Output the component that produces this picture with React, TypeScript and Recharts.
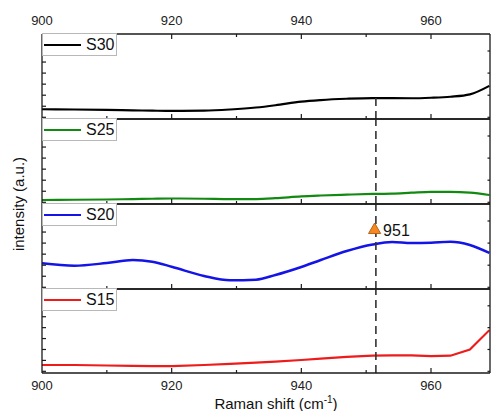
import React from "react";
import {
  ComposedChart,
  Line,
  Scatter,
  XAxis,
  YAxis,
  ReferenceLine,
  Legend,
  LabelList,
  Label,
} from "recharts";

// Raman shift positions (cm-1) at which the curves were read
const shifts = [900, 905, 910, 914, 917, 920, 925, 929, 933, 936, 940, 943, 947, 951, 954, 957, 960, 963, 966, 969];

// intensities (a.u., 0-100 inside each panel)
const s30 = [11.5, 11.2, 10.7, 10.2, 9.8, 9.5, 9.8, 11.2, 13.5, 16.2, 20.5, 22.3, 23.8, 24.6, 24.5, 24.4, 25, 26.2, 29, 39];
const s25 = [4.7, 5.0, 5.3, 5.8, 6.2, 6.5, 6.2, 5.7, 5.8, 6.8, 9.0, 10.0, 11.0, 11.8, 12.2, 13.3, 14.3, 14.3, 13.3, 10.6];
const s20 = [30.2, 27.4, 30.6, 34.1, 32.1, 26.2, 15.3, 10.2, 11.0, 16.5, 25.9, 34.1, 44.7, 52.4, 55.3, 54.1, 54.5, 55.6, 51.8, 42.4];
const s15 = [9.5, 9.5, 8.9, 8.4, 8.3, 8.3, 9.5, 10.9, 12.4, 13.5, 15.5, 17.1, 19.2, 20.6, 21.0, 21.0, 20.2, 20.6, 28, 51];

const seriesNames = ["S30", "S25", "S20", "S15"];
const seriesColors = ["#000000", "#128a12", "#1414e6", "#ee1b1b"];
const seriesValues = [s30, s25, s20, s15];

const xTickValues = [900, 910, 920, 930, 940, 950, 960];
const xMajorTicks = [900, 920, 940, 960];
const yLeftTicks = [2, 15, 28, 41, 54, 67, 80, 93];
const yRightTicks = [2, 28, 54, 80];

const peakShift = 951.5;
const peakMarker = [{ shift: 951.3, value: 69.4, label: "951" }];

const W = 491;
const H = 411;
const panelTops = [34, 119, 204, 289];
const panelBottoms = [119, 204, 289, 373];
const FONT = "'Liberation Sans', Arial, sans-serif";
const AXIS = "#1a1a1a";

const renderXTick = (p: any, side: "top" | "bottom", labels: boolean) => {
  const v = p.payload.value;
  const major = xMajorTicks.includes(v);
  const len = major ? 5 : 3;
  const dir = side === "top" ? 1 : -1;
  return (
    <g>
      {v !== 900 && (
        <line x1={p.x} x2={p.x} y1={p.y} y2={p.y + dir * len} stroke={AXIS} strokeWidth={1.2} />
      )}
      {labels && major && (
        <text
          x={p.x}
          y={side === "top" ? p.y - 9 : p.y + 17}
          textAnchor="middle"
          fontSize={13}
          fontFamily={FONT}
          fill="#222"
        >
          {v}
        </text>
      )}
    </g>
  );
};

const renderYTick = (p: any, side: "left" | "right") => {
  const len = side === "left" ? 4 : -2.5;
  return <line x1={p.x} x2={p.x + len} y1={p.y} y2={p.y} stroke={AXIS} strokeWidth={1.2} />;
};

const LegendBox = ({ name, color }: { name: string; color: string }) => (
  <div
    style={{
      boxSizing: "border-box",
      width: 75,
      height: 23,
      border: "1px solid #b8b8b8",
      background: "#fff",
      display: "flex",
      alignItems: "center",
      fontFamily: FONT,
    }}
  >
    <span style={{ display: "inline-block", width: 37, height: 2, background: color, marginLeft: 1 }} />
    <span style={{ marginLeft: 5, fontSize: 16, color: "#111" }}>{name}</span>
  </div>
);

const Panel = ({ index }: { index: number }) => {
  const top = panelTops[index];
  const bottom = panelBottoms[index];
  const isFirst = index === 0;
  const isLast = index === 3;
  const color = seriesColors[index];
  const data = shifts.map((s, i) => ({ shift: s, value: seriesValues[index][i] }));

  return (
    <div style={{ position: "absolute", left: 0, top: 0 }}>
      <ComposedChart
        width={W}
        height={H}
        data={data}
        margin={{ top: top - 1, bottom: H - bottom - 1, left: 41, right: 0 }}
      >
        <XAxis
          xAxisId="b"
          dataKey="shift"
          type="number"
          domain={[900, 969.1]}
          allowDataOverflow
          orientation="bottom"
          height={1}
          ticks={xTickValues}
          interval={0}
          tickSize={0}
          tickMargin={0}
          tickLine={false}
          axisLine={{ stroke: AXIS, strokeWidth: 1.3 }}
          tick={(p: any) => renderXTick(p, "bottom", isLast)}
        >
          {isLast && (
            <Label
              content={(p: any) => {
                const vb = p.viewBox;
                return (
                  <text x={276} y={vb.y + 36} textAnchor="middle" fontSize={15} fontFamily={FONT} fill="#111">
                    Raman shift (cm
                    <tspan dy={-6} fontSize={10}>-1</tspan>
                    <tspan dy={6}>)</tspan>
                  </text>
                );
              }}
            />
          )}
        </XAxis>
        <XAxis
          xAxisId="t"
          dataKey="shift"
          type="number"
          domain={[900, 969.1]}
          allowDataOverflow
          orientation="top"
          height={1}
          ticks={xTickValues}
          interval={0}
          tickSize={0}
          tickMargin={0}
          tickLine={false}
          axisLine={{ stroke: AXIS, strokeWidth: 1.3 }}
          tick={isFirst ? (p: any) => renderXTick(p, "top", true) : false}
        />
        <YAxis
          yAxisId="l"
          type="number"
          domain={[0, 100]}
          allowDataOverflow
          orientation="left"
          width={1}
          ticks={yLeftTicks}
          interval={0}
          tickSize={0}
          tickMargin={0}
          tickLine={false}
          axisLine={{ stroke: AXIS, strokeWidth: 1.3 }}
          tick={(p: any) => renderYTick(p, "left")}
        >
          {index === 1 && (
            <Label
              content={(p: any) => {
                const vb = p.viewBox;
                const cx = 18;
                const cy = vb.y + vb.height;
                return (
                  <text
                    x={cx}
                    y={cy}
                    transform={`rotate(-90 ${cx} ${cy})`}
                    textAnchor="middle"
                    dominantBaseline="central"
                    fontSize={15}
                    fontFamily={FONT}
                    fill="#111"
                  >
                    intensity (a.u.)
                  </text>
                );
              }}
            />
          )}
        </YAxis>
        <YAxis
          yAxisId="r"
          type="number"
          domain={[0, 100]}
          allowDataOverflow
          orientation="right"
          width={1}
          ticks={yRightTicks}
          interval={0}
          tickSize={0}
          tickMargin={0}
          tickLine={false}
          axisLine={{ stroke: AXIS, strokeWidth: 1.3 }}
          tick={(p: any) => renderYTick(p, "right")}
        />
        <Legend
          verticalAlign="middle"
          align="center"
          layout="horizontal"
          wrapperStyle={{ left: 42, top: top - 1, width: "auto", height: "auto" }}
          content={() => <LegendBox name={seriesNames[index]} color={color} />}
        />
        <Line
          xAxisId="b"
          yAxisId="l"
          dataKey="value"
          name={seriesNames[index]}
          type={isLast ? "linear" : "monotone"}
          stroke={color}
          strokeWidth={index === 2 ? 2.5 : 2.2}
          dot={false}
          isAnimationActive={false}
        />
        {isFirst ? (
          <ReferenceLine
            xAxisId="b"
            yAxisId="l"
            segment={[{ x: peakShift, y: 0 }, { x: peakShift, y: 26 }]}
            stroke="#333"
            strokeWidth={1.6}
            strokeDasharray="8 5"
          />
        ) : (
          <ReferenceLine
            xAxisId="b"
            yAxisId="l"
            x={peakShift}
            stroke="#333"
            strokeWidth={1.6}
            strokeDasharray="8 5"
          />
        )}
        {index === 2 && (
          <Scatter
            xAxisId="b"
            yAxisId="l"
            data={peakMarker}
            dataKey="value"
            shape="triangle"
            fill="#f5891f"
            stroke="#b8621a"
            legendType="none"
            isAnimationActive={false}
          >
            <LabelList
              dataKey="label"
              position="right"
              offset={4}
              fontSize={16}
              fontFamily={FONT}
              fill="#111"
            />
          </Scatter>
        )}
      </ComposedChart>
    </div>
  );
};

export default function App() {
  return (
    <div style={{ position: "absolute", left: 0, top: 0, width: W, height: H, background: "#fff", overflow: "hidden" }}>
      {[0, 1, 2, 3].map((i) => (
        <Panel key={i} index={i} />
      ))}
    </div>
  );
}
